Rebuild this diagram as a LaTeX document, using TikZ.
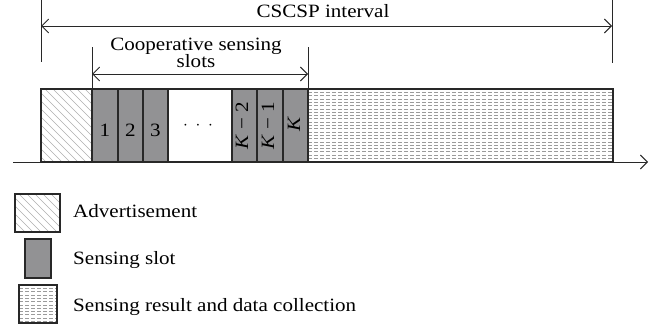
\documentclass[tikz,border=0pt]{standalone}
\usepackage{fontspec}
\setmainfont[FakeStretch=1.12]{Liberation Serif}
\usetikzlibrary{arrows.meta}
\definecolor{slotgray}{RGB}{146,146,148}
\definecolor{edgec}{RGB}{40,40,40}
\definecolor{hatchc}{RGB}{175,175,175}
\definecolor{dashc}{RGB}{155,155,155}
\begin{document}
\begin{tikzpicture}[x=1pt,y=-1pt,
  every node/.style={font=\fontsize{18.8}{20}\selectfont, text=black},
  box/.style={draw=edgec, line width=1.1pt, inner sep=0pt, outer sep=0pt, anchor=north west},
  advbox/.style={box, path picture={
     \foreach \i in {-84,-76,...,63} \draw[hatchc, line width=0.45pt]
       ([xshift=\i pt]path picture bounding box.north west) -- ++(90pt,-90pt);}},
  slotbox/.style={box, fill=slotgray},
  blankbox/.style={box, fill=white},
  databox/.style={box, path picture={
     \foreach \j in {3.3,6.6,...,75} \draw[dashc, line width=0.45pt, dash pattern=on 4pt off 2pt]
       ([yshift=-\j pt]path picture bounding box.north west) -- ++(400pt,0pt);}},
  tick/.style={draw=edgec, line width=0.9pt},
  dimarrow/.style={draw=edgec, line width=0.9pt, {Straight Barb[length=7pt,width=14pt]}-{Straight Barb[length=7pt,width=14pt]}},
  axisarrow/.style={draw=edgec, line width=0.9pt, -{Straight Barb[length=7pt,width=14pt]}},
  lbl/.style={anchor=base, inner sep=0pt}
]
\useasboundingbox (0,0) rectangle (664,332);

% time line boxes
\node[advbox, minimum width=51pt, minimum height=73pt] (adv) at (41,89) {};
\node[slotbox, minimum width=26pt, minimum height=73pt] (s1) at (92,89) {};
\node[slotbox, minimum width=25pt, minimum height=73pt] (s2) at (118,89) {};
\node[slotbox, minimum width=25pt, minimum height=73pt] (s3) at (143,89) {};
\node[blankbox, minimum width=64pt, minimum height=73pt] (gap) at (168,89) {};
\node[slotbox, minimum width=25pt, minimum height=73pt] (s4) at (232,89) {};
\node[slotbox, minimum width=26pt, minimum height=73pt] (s5) at (257,89) {};
\node[slotbox, minimum width=25pt, minimum height=73pt] (s6) at (283,89) {};
\node[databox, minimum width=305pt, minimum height=73pt] (data) at (308,89) {};

% slot labels
\node[lbl] (n1) at (105,136) {1};
\node[lbl] (n2) at (130.5,136) {2};
\node[lbl] (n3) at (155.5,136) {3};
\node[inner sep=0pt] (dots) at (198,126) {$\cdot\mkern4mu\cdot\mkern4mu\cdot$};
\node[rotate=90, inner sep=0pt] (nk2) at (242,126) {\textit{K} − 2};
\node[rotate=90, inner sep=0pt] (nk1) at (268,126) {\textit{K} − 1};
\node[rotate=90, inner sep=0pt] (nk) at (294,124) {\textit{K}};

% time axis
\coordinate (ax0) at (13,162);
\coordinate (ax1) at (648,162);
\draw[axisarrow] (ax0) -- (ax1);

% CSCSP interval dimension
\coordinate (cl0) at (41,0);
\coordinate (cl1) at (41,62);
\coordinate (cr0) at (612,0);
\coordinate (cr1) at (612,63);
\coordinate (cal) at (41,26);
\coordinate (car) at (612,26);
\draw[tick] (cl0) -- (cl1);
\draw[tick] (cr0) -- (cr1);
\draw[dimarrow] (cal) -- (car);
\node[lbl] (cscsp) at (323,17) {CSCSP interval};

% Cooperative sensing slots dimension
\coordinate (kl0) at (92,47);
\coordinate (kr0) at (308,47);
\coordinate (kal) at (92,74);
\coordinate (kar) at (308,74);
\draw[tick] (kl0) -- (s1.north west);
\draw[tick] (kr0) -- (data.north west);
\draw[dimarrow] (kal) -- (kar);
\node[lbl] (coop1) at (196,50) {Cooperative sensing};
\node[lbl] (coop2) at (196,67) {slots};

% legend
\node[advbox, minimum width=45pt, minimum height=38pt] (lg1) at (15,194) {};
\node[slotbox, minimum width=26pt, minimum height=39pt] (lg2) at (25,239) {};
\node[databox, minimum width=38pt, minimum height=38pt] (lg3) at (19,285) {};
\node[anchor=base west, inner sep=0pt] (t1) at (73,217) {Advertisement};
\node[anchor=base west, inner sep=0pt] (t2) at (73,264) {Sensing slot};
\node[anchor=base west, inner sep=0pt] (t3) at (73,311) {Sensing result and data collection};
\end{tikzpicture}
\end{document}
